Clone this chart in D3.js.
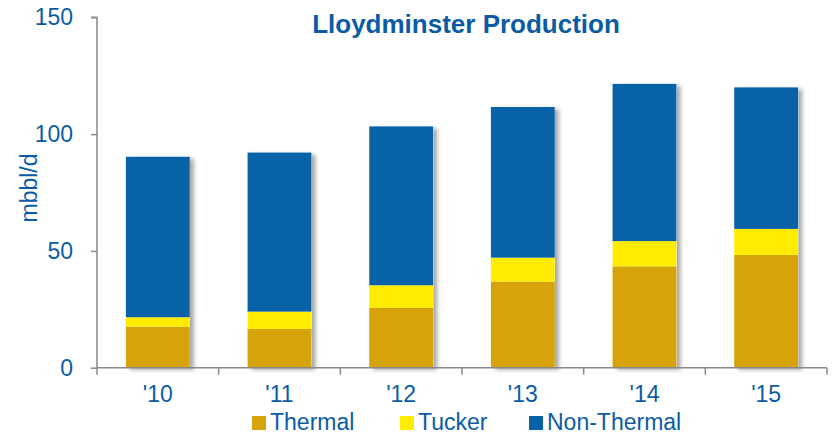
<!DOCTYPE html>
<html><head><meta charset="utf-8">
<script src="https://cdn.jsdelivr.net/npm/d3@7"></script>
<style>body{margin:0;background:#fff}svg{display:block}text{font-family:Arial,"Liberation Sans",sans-serif}</style>
</head><body><svg id="c" width="834" height="435"></svg>
<script>
const years = ["'10","'11","'12","'13","'14","'15"];
const thermal = [17.6, 16.6, 25.6, 36.9, 43.4, 48.3];
const tucker = [4.0, 7.4, 9.7, 10.2, 10.8, 11.1];
const nonThermal = [68.7, 68.1, 68.0, 64.5, 67.3, 60.6];
const seriesNames = ["Thermal","Tucker","Non-Thermal"];
const colors = ["#D6A40A","#FFEC00","#0862A8"];
const yTicks = [0,50,100,150];

const textColor = "#0B5CA5";
const svg = d3.select("#c");
const x = d3.scaleBand().domain(years).range([97,827]).paddingInner(0.475).paddingOuter(0.2375);
const y = d3.scaleLinear().domain([0,150]).range([367.7,17.3]);

const defs = svg.append("defs");
const f = defs.append("filter").attr("id","sh").attr("x","-20%").attr("y","-10%").attr("width","150%").attr("height","130%");
f.append("feDropShadow").attr("dx",4).attr("dy",2).attr("stdDeviation",2).attr("flood-color","#000").attr("flood-opacity",0.35);

const rows = years.map((yr,i)=>({year:yr, Thermal:thermal[i], Tucker:tucker[i], "Non-Thermal":nonThermal[i]}));
const stack = d3.stack().keys(seriesNames)(rows);
const total = d => d.Thermal + d.Tucker + d["Non-Thermal"];

// shadows per full bar
svg.append("g").selectAll("rect").data(rows).join("rect")
  .attr("x",d=>x(d.year)).attr("width",x.bandwidth())
  .attr("y",d=>y(total(d))).attr("height",d=>y(0)-y(total(d)))
  .attr("fill","#fff").attr("filter","url(#sh)");

svg.append("g").selectAll("g").data(stack).join("g").attr("fill",(d,i)=>colors[i])
  .selectAll("rect").data(d=>d).join("rect")
  .attr("x",d=>x(d.data.year)).attr("width",x.bandwidth())
  .attr("y",d=>y(d[1])).attr("height",d=>y(d[0])-y(d[1]));

// axes
const axColor = "#888";
const yAxis = svg.append("g").attr("transform","translate(97,0)")
  .call(d3.axisLeft(y).tickValues(yTicks).tickSize(6).tickPadding(18));
yAxis.select(".domain").attr("stroke",axColor).attr("stroke-width",1.5).attr("d",`M-6,${y(150)}H0V${y(0)}`);
yAxis.selectAll(".tick line").attr("stroke",axColor).attr("stroke-width",1.5);
yAxis.selectAll(".tick text").attr("fill",textColor).style("font-size","23px").attr("font-family","Arial, Liberation Sans, sans-serif");

const xAxis = svg.append("g").attr("transform",`translate(0,${y(0)})`)
  .call(d3.axisBottom(x).tickSize(0).tickPadding(14));
xAxis.select(".domain").attr("stroke",axColor).attr("stroke-width",1.5).attr("d","M97,0H827");
xAxis.selectAll(".tick text").attr("fill",textColor).style("font-size","23px").attr("font-family","Arial, Liberation Sans, sans-serif").attr("dy","0.9em");
svg.append("g").selectAll("line").data(years.map(d=>x(d)-x.step()*x.paddingInner()/2 - (x.step()*x.paddingOuter() - x.step()*x.paddingInner()/2)*(d===years[0]?1:0)).concat([827]))
  .join("line").attr("x1",d=>d).attr("x2",d=>d).attr("y1",y(0)).attr("y2",y(0)+7)
  .attr("stroke",axColor).attr("stroke-width",1.5);

// y label
svg.append("text").attr("transform","translate(37,188) rotate(-90)").attr("text-anchor","middle")
  .attr("fill",textColor).style("font-size","23px").text("mbbl/d");

// title
svg.append("text").attr("x",466).attr("y",33).attr("text-anchor","middle").attr("fill",textColor)
  .style("font-size","26px").style("font-weight","bold").text("Lloydminster Production");

// legend
const legX = [252, 400, 529];
const leg = svg.append("g").selectAll("g").data(seriesNames).join("g")
  .attr("transform",(d,i)=>`translate(${legX[i]},0)`);
leg.append("rect").attr("x",0).attr("y",416).attr("width",14).attr("height",14).attr("fill",(d,i)=>colors[i]);
leg.append("text").attr("x",18).attr("y",430).attr("fill",textColor).style("font-size","23px").text(d=>d);
</script></body></html>
